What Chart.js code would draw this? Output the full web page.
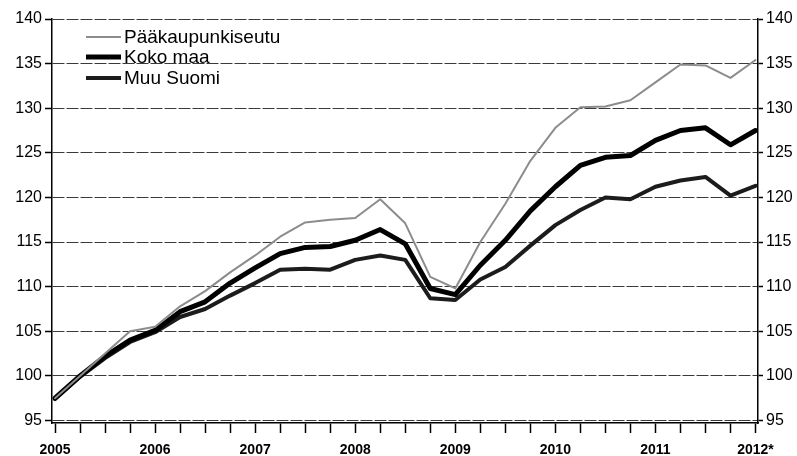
<!DOCTYPE html>
<html>
<head>
<meta charset="utf-8">
<script src="https://cdn.jsdelivr.net/npm/chart.js@4"></script>
<style>
  html, body { margin: 0; background: #fff; }
</style>
</head>
<body>
<canvas id="chart" width="797" height="456"></canvas>
<script>
// quarterly index, 2005 = 100-ish base
const quarters = [
  '2005Q1', '2005Q2', '2005Q3', '2005Q4', '2006Q1', '2006Q2', '2006Q3', '2006Q4',
  '2007Q1', '2007Q2', '2007Q3', '2007Q4', '2008Q1', '2008Q2', '2008Q3', '2008Q4',
  '2009Q1', '2009Q2', '2009Q3', '2009Q4', '2010Q1', '2010Q2', '2010Q3', '2010Q4',
  '2011Q1', '2011Q2', '2011Q3', '2011Q4', '2012Q1'
];
const yearLabels = ['2005', '2006', '2007', '2008', '2009', '2010', '2011', '2012*'];
const yTicks = [95, 100, 105, 110, 115, 120, 125, 130, 135, 140];

const paakaupunkiseutu = [97.5, 100.0, 102.5, 105.0, 105.5, 107.8, 109.5, 111.6, 113.5, 115.6, 117.2, 117.5, 117.7, 119.8, 117.1, 111.1, 109.8, 115.0, 119.3, 124.1, 127.8, 130.1, 130.2, 130.9, 132.9, 134.9, 134.8, 133.4, 135.4];
const kokoMaa = [97.5, 100.0, 102.2, 104.0, 105.1, 107.2, 108.3, 110.4, 112.1, 113.7, 114.4, 114.5, 115.2, 116.4, 114.8, 109.8, 109.1, 112.4, 115.2, 118.5, 121.2, 123.6, 124.5, 124.7, 126.4, 127.5, 127.8, 125.9, 127.5];
const muuSuomi = [97.4, 99.9, 102.0, 103.8, 104.9, 106.6, 107.5, 109.0, 110.4, 111.9, 112.0, 111.9, 113.0, 113.5, 113.0, 108.7, 108.5, 110.8, 112.2, 114.6, 116.9, 118.6, 120.0, 119.8, 121.2, 121.9, 122.3, 120.2, 121.3];

const fontFamily = "'Liberation Sans', Arial, sans-serif";

function toPoints(values) {
  return values.map((v, i) => ({ x: i, y: v }));
}

// legend drawn inside the plot, top left
const insideLegend = {
  id: 'insideLegend',
  afterDatasetsDraw(chart) {
    const ctx = chart.ctx;
    const rows = [37, 57, 78];
    ctx.save();
    chart.data.datasets.forEach((ds, i) => {
      const y = rows[i];
      ctx.strokeStyle = ds.borderColor;
      ctx.lineWidth = ds.borderWidth;
      ctx.beginPath();
      ctx.moveTo(86, y);
      ctx.lineTo(121, y);
      ctx.stroke();
      ctx.fillStyle = '#000';
      ctx.font = '19px ' + fontFamily;
      ctx.textBaseline = 'middle';
      ctx.fillText(ds.label, 124, y + 1);
    });
    ctx.restore();
  }
};

const yAxisCommon = {
  min: 94.72,
  max: 140,
  afterBuildTicks: scale => { scale.ticks = yTicks.map(v => ({ value: v })); },
  ticks: { color: '#000', font: { family: fontFamily, size: 16 } },
  border: { color: '#000', width: 1.5 }
};

new Chart(document.getElementById('chart'), {
  type: 'line',
  data: {
    datasets: [
      { label: 'Pääkaupunkiseutu', data: toPoints(paakaupunkiseutu), borderColor: '#8c8c8c', borderWidth: 2, yAxisID: 'y' },
      { label: 'Koko maa', data: toPoints(kokoMaa), borderColor: '#000', borderWidth: 5, yAxisID: 'y' },
      { label: 'Muu Suomi', data: toPoints(muuSuomi), borderColor: '#1c1c1c', borderWidth: 4, yAxisID: 'y' }
    ]
  },
  options: {
    responsive: false,
    animation: false,
    devicePixelRatio: 1,
    layout: { padding: { top: 19, left: 0, right: 0, bottom: 0 } },
    elements: { point: { radius: 0 }, line: { tension: 0, borderJoinStyle: 'round', borderCapStyle: 'round' } },
    plugins: { legend: { display: false }, tooltip: { enabled: false } },
    scales: {
      x: {
        type: 'linear',
        min: -0.12,
        max: 28.1,
        afterBuildTicks: scale => { scale.ticks = quarters.map((q, i) => ({ value: i })); },
        afterFit: scale => { scale.height = 33; },
        ticks: {
          autoSkip: false,
          maxRotation: 0,
          padding: 9,
          color: '#000',
          font: { family: fontFamily, size: 14, weight: 'bold' },
          callback: v => (v % 4 === 0 ? yearLabels[v / 4] : '')
        },
        grid: { drawOnChartArea: false, tickLength: 10, tickColor: '#000', tickWidth: 1.5 },
        border: { color: '#000', width: 1.5 }
      },
      y: {
        ...yAxisCommon,
        position: 'left',
        afterFit: scale => { scale.width = 52; },
        ticks: { ...yAxisCommon.ticks, padding: 3 },
        grid: { color: '#3a3a3a', lineWidth: 1, tickLength: 7, tickColor: '#000', tickWidth: 1.5 },
        border: { ...yAxisCommon.border, dash: [12, 2] }
      },
      y2: {
        ...yAxisCommon,
        position: 'right',
        afterFit: scale => { scale.width = 39; },
        ticks: { ...yAxisCommon.ticks, padding: 3 },
        grid: { drawOnChartArea: false, tickLength: 5, tickColor: '#000', tickWidth: 1.5 }
      }
    }
  },
  plugins: [insideLegend]
});
</script>
</body>
</html>
